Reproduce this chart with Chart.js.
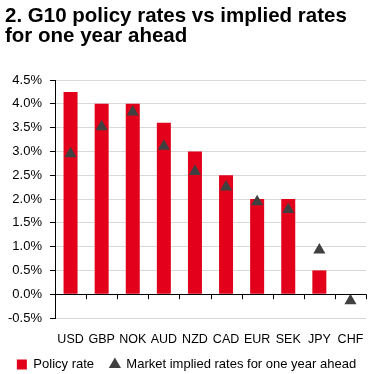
<!DOCTYPE html>
<html>
<head>
<meta charset="utf-8">
<script src="https://cdn.jsdelivr.net/npm/chart.js@4"></script>
<style>
  html, body { margin: 0; padding: 0; background: #fff; }
  #wrap { width: 373px; height: 374px; position: relative; }
</style>
</head>
<body>
<div id="wrap"><canvas id="chart"></canvas></div>
<script>
// G10 policy rates vs implied rates for one year ahead

const currencies = ['USD', 'GBP', 'NOK', 'AUD', 'NZD', 'CAD', 'EUR', 'SEK', 'JPY', 'CHF'];
const policyRate = [4.25, 4.0, 4.0, 3.6, 3.0, 2.5, 2.0, 2.0, 0.5, 0];
const impliedRate = [2.95, 3.52, 3.83, 3.11, 2.58, 2.25, 1.94, 1.78, 0.93, -0.14];
const titleLines = ['2. G10 policy rates vs implied rates', 'for one year ahead'];

const RED = '#e2001a';
const DARK = '#404040';
const FONT = 'Arial, "Liberation Sans", sans-serif';

// small tick marks on the zero line between categories
const zeroTicks = {
    id: 'zeroTicks',
    afterDatasetsDraw(chart) {
        const x = chart.scales.x;
        const y = chart.scales.y;
        const y0 = y.getPixelForValue(0);
        const ctx = chart.ctx;
        const step = (x.right - x.left) / currencies.length;
        ctx.save();
        ctx.strokeStyle = '#000';
        ctx.lineWidth = 1;
        ctx.beginPath();
        ctx.moveTo(x.left, Math.round(y0) + 0.5);
        ctx.lineTo(x.right, Math.round(y0) + 0.5);
        for (let i = 1; i <= currencies.length; i++) {
            const px = Math.round(x.left + i * step) + 0.5;
            ctx.moveTo(px, y0);
            ctx.lineTo(px, y0 + 5);
        }
        ctx.stroke();
        ctx.restore();
    }
};

new Chart(document.getElementById('chart'), {
    data: {
        labels: currencies,
        datasets: [
            {
                type: 'line',
                label: 'Market implied rates for one year ahead',
                data: impliedRate,
                showLine: false,
                pointStyle: 'triangle',
                pointRadius: 7,
                pointHoverRadius: 7,
                backgroundColor: DARK,
                borderColor: DARK,
                borderWidth: 0
            },
            {
                type: 'bar',
                label: 'Policy rate',
                data: policyRate,
                backgroundColor: RED,
                pointStyle: 'rect',
                categoryPercentage: 0.9,
                barPercentage: 0.5
            }
        ]
    },
    options: {
        responsive: true,
        maintainAspectRatio: false,
        animation: false,
        layout: { padding: { left: 5, right: 5, top: 2, bottom: -7 } },
        plugins: {
            title: {
                display: true,
                text: titleLines,
                align: 'start',
                color: '#000',
                font: { family: FONT, size: 20.5, weight: 'bold', lineHeight: 1.0 },
                padding: { top: 4, bottom: 33 }
            },
            legend: {
                position: 'bottom',
                reverse: true,
                labels: {
                    usePointStyle: true,
                    boxWidth: 10,
                    boxHeight: 10,
                    padding: 5,
                    color: '#000',
                    font: { family: FONT, size: 13 },
                    generateLabels: chart => {
                        const items = Chart.defaults.plugins.legend.labels.generateLabels(chart);
                        // wider gap after the first legend entry
                        items.forEach(it => { if (it.text === 'Policy rate') it.text += '   '; });
                        return items;
                    }
                }
            },
            tooltip: { enabled: false }
        },
        scales: {
            x: {
                grid: { display: false },
                border: { display: false },
                ticks: {
                    color: '#000',
                    padding: 6,
                    maxRotation: 0,
                    font: { family: FONT, size: 12.5 }
                }
            },
            y: {
                min: -0.5,
                max: 4.5,
                afterFit: s => { s.width = 50; },
                border: { display: true, color: '#000', width: 1 },
                grid: {
                    color: c => (c.tick && c.tick.value === 0 ? '#000' : '#d9d9d9'),
                    tickColor: '#000',
                    tickLength: 5
                },
                ticks: {
                    stepSize: 0.5,
                    color: '#000',
                    padding: 8,
                    font: { family: FONT, size: 13 },
                    callback: v => v.toFixed(1) + '%'
                }
            }
        }
    },
    plugins: [zeroTicks]
});
</script>
</body>
</html>
